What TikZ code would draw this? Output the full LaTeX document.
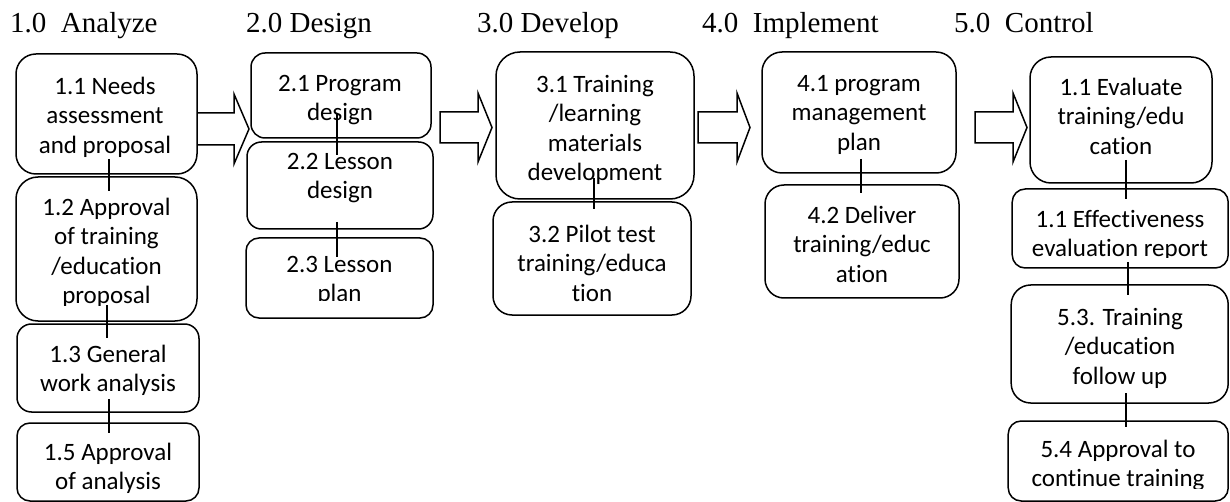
\documentclass[tikz,border=0pt]{standalone}
\usepackage{fontspec}
\setmainfont{Liberation Serif}
\newfontfamily\boxfont[Ligatures=NoCommon]{Carlito}

\begin{document}
\begin{tikzpicture}[x=1pt,y=-1pt,
  box/.style={draw, line width=1.5pt, rectangle, inner sep=0pt, outer sep=0pt},
  label/.style={anchor=north, yshift=20.65pt, inner sep=0pt, align=center,
    font=\boxfont\fontsize{25}{29.5}\selectfont},
  head/.style={anchor=base west, inner sep=0pt, font=\fontsize{29}{33}\selectfont},
  link/.style={line width=1.3pt},
  blockarrow/.style={draw, line width=1.5pt, fill=white, line join=miter}]

\useasboundingbox (0,0) rectangle (1230,502);
\fill[white] (0,0) rectangle (1230,502);

% phase headings
\node[head] (h1) at (10,33)  {1.0\ \ Analyze};
\node[head] (h2) at (246,33) {2.0 Design};
\node[head] (h3) at (477,33) {3.0 Develop};
\node[head] (h4) at (702,33) {4.0\ \ Implement};
\node[head] (h5) at (954,33) {5.0\ \ Control};

% block arrows between the phases
\draw[blockarrow] (197,113) -- (234,113) -- (234,94) -- (249,129) -- (234,164) -- (234,145) -- (197,145);
\draw[blockarrow] (440,112) -- (478,112) -- (478,93) -- (492,127.5) -- (478,162) -- (478,143) -- (440,143) -- cycle;
\draw[blockarrow] (698,112) -- (737,112) -- (737,93) -- (750,127.5) -- (737,162) -- (737,143) -- (698,143) -- cycle;
\draw[blockarrow] (975,112) -- (1013,112) -- (1013,93) -- (1027,127.5) -- (1013,162) -- (1013,143) -- (975,143) -- cycle;

% step boxes
\node[box, rounded corners=20pt, minimum width=181pt, minimum height=120pt] (b11) at (106.5,114) {};
\node[box, rounded corners=22pt, minimum width=181pt, minimum height=144pt] (b12) at (106.5,249) {};
\node[box, rounded corners=14.5pt, minimum width=182pt, minimum height=88pt] (b13) at (108,368) {};
\node[box, rounded corners=13pt, minimum width=182pt, minimum height=78pt] (b15) at (108,462) {};

\node[box, rounded corners=14pt, minimum width=180pt, minimum height=85pt] (b21) at (341,95.5) {};
\node[box, rounded corners=14.5pt, minimum width=186pt, minimum height=87pt] (b22) at (340,185.5) {};
\node[box, rounded corners=13pt, minimum width=187pt, minimum height=80pt] (b23) at (339.5,278) {};

\node[box, rounded corners=24pt, minimum width=198pt, minimum height=147pt] (b31) at (595,125.5) {};
\node[box, rounded corners=19pt, minimum width=198pt, minimum height=113pt] (b32) at (592,258.5) {};

\node[box, rounded corners=20pt, minimum width=194pt, minimum height=121pt] (b41) at (859,112.5) {};
\node[box, rounded corners=19pt, minimum width=194pt, minimum height=113pt] (b42) at (862,241.5) {};

\node[box, rounded corners=21pt, minimum width=182pt, minimum height=126pt] (b51) at (1121,120) {};
\node[box, rounded corners=13pt, minimum width=216pt, minimum height=79pt] (b52) at (1120.2,228.5) {};
\node[box, rounded corners=19.5pt, minimum width=217pt, minimum height=118pt] (b53) at (1119.7,344) {};
\node[box, rounded corners=13pt, minimum width=220pt, minimum height=80pt] (b54) at (1118.2,461) {};

% box texts (first-line baselines given as positions)
\node[label] (t11) at (105,94) {\strut 1.1 Needs\\assessment\\and proposal};
\begin{scope}
  \clip (16,177) rectangle (197,305);
  \node[label] (t12) at (106.5,215) {\strut 1.2 Approval\\of training\\/education\\proposal};
\end{scope}
\node[label] (t13) at (108,362) {\strut 1.3 General\\work analysis};
\node[label] (t15) at (108,460) {\strut 1.5 Approval\\of analysis};

\node[label] (t21) at (340,91) {\strut 2.1 Program\\design};
\node[label] (t22) at (340,169) {\strut 2.2 Lesson\\design};
\begin{scope}
  \clip (246,238) rectangle (433,300);
  \node[label] (t23) at (339.5,272) {\strut 2.3 Lesson\\plan};
\end{scope}

\node[label] (t31) at (595,92) {\strut 3.1 Training\\/learning\\materials\\development};
\node[label] (t32) at (592,242) {\strut 3.2 Pilot test\\training/educa\\tion};

\node[label] (t41) at (859,91) {\strut 4.1 program\\management\\plan};
\node[label] (t42) at (862,223) {\strut 4.2 Deliver\\training/educ\\ation};

\node[label] (t51) at (1121,95) {\strut 1.1 Evaluate\\training/edu\\cation};
\begin{scope}
  \clip (1012,189) rectangle (1229,258);
  \node[label] (t52) at (1120,227) {\strut 1.1 Effectiveness\\evaluation report};
\end{scope}
\node[label] (t53) at (1120,325) {\strut 5.3. Training\\/education\\follow up};
\begin{scope}
  \clip (1008,421) rectangle (1229,488);
  \node[label] (t54) at (1118,457) {\strut 5.4 Approval to\\continue training};
\end{scope}

% vertical links between consecutive steps
\draw[link] ([xshift=2.5pt,yshift=15pt]b11.south) -- ([xshift=2.5pt,yshift=-14pt]b12.north);
\draw[link] ([xshift=0.5pt,yshift=16pt]b12.south) -- ([xshift=-1pt,yshift=-14pt]b13.north);
\draw[link] ([xshift=1pt,yshift=13pt]b13.south) -- ([xshift=1pt,yshift=-10pt]b15.north);
\draw[link] ([xshift=-4pt,yshift=25pt]b21.south) -- ([xshift=-3pt,yshift=-13pt]b22.north);
\draw[link] ([xshift=-3pt,yshift=7pt]b22.south) -- ([xshift=-2.5pt,yshift=-19pt]b23.north);
\draw[link] ([xshift=-1pt,yshift=21pt]b31.south) -- ([xshift=2pt,yshift=-7pt]b32.north);
\draw[link] ([xshift=2pt,yshift=14pt]b41.south) -- ([xshift=-1pt,yshift=-8pt]b42.north);
\draw[link] ([xshift=5pt,yshift=23pt]b51.south) -- ([xshift=5.8pt,yshift=-10pt]b52.north);
\draw[link] ([xshift=7.8pt,yshift=6pt]b52.south) -- ([xshift=8.3pt,yshift=-10pt]b53.north);
\draw[link] ([xshift=6.3pt,yshift=10pt]b53.south) -- ([xshift=7.8pt,yshift=-6pt]b54.north);
\end{tikzpicture}
\end{document}
